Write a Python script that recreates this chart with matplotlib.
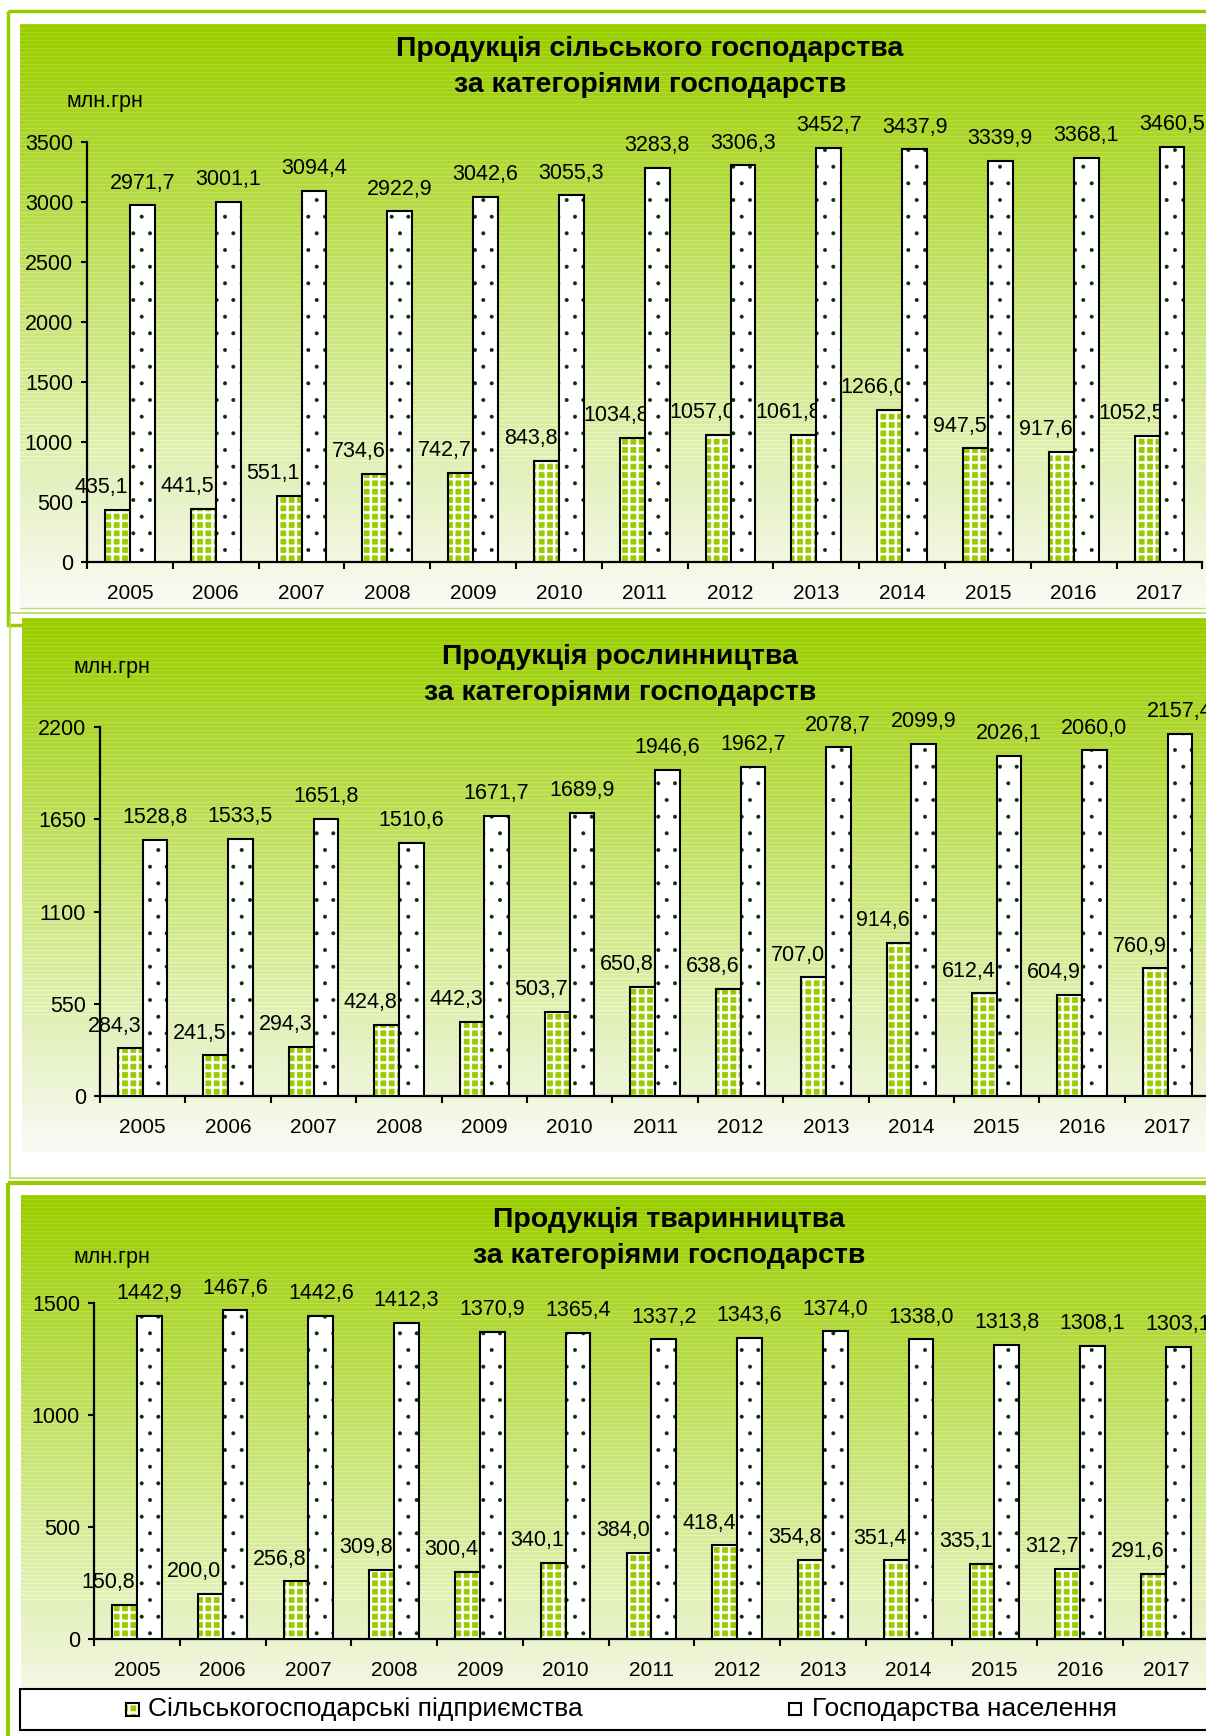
import numpy as np
import matplotlib
matplotlib.use('Agg')
import matplotlib.pyplot as plt
from matplotlib.patches import Rectangle

plt.rcParams['font.family'] = ['Liberation Sans', 'DejaVu Sans']

# Data (млн.грн)
years = [str(y) for y in range(2005, 2018)]

agri_enterprises = [435.1, 441.5, 551.1, 734.6, 742.7, 843.8, 1034.8, 1057.0, 1061.8, 1266.0, 947.5, 917.6, 1052.5]
agri_households = [2971.7, 3001.1, 3094.4, 2922.9, 3042.6, 3055.3, 3283.8, 3306.3, 3452.7, 3437.9, 3339.9, 3368.1, 3460.5]

crop_enterprises = [284.3, 241.5, 294.3, 424.8, 442.3, 503.7, 650.8, 638.6, 707.0, 914.6, 612.4, 604.9, 760.9]
crop_households = [1528.8, 1533.5, 1651.8, 1510.6, 1671.7, 1689.9, 1946.6, 1962.7, 2078.7, 2099.9, 2026.1, 2060.0, 2157.4]

animal_enterprises = [150.8, 200.0, 256.8, 309.8, 300.4, 340.1, 384.0, 418.4, 354.8, 351.4, 335.1, 312.7, 291.6]
animal_households = [1442.9, 1467.6, 1442.6, 1412.3, 1370.9, 1365.4, 1337.2, 1343.6, 1374.0, 1338.0, 1313.8, 1308.1, 1303.1]

agri_ticks = [0, 500, 1000, 1500, 2000, 2500, 3000, 3500]
crop_ticks = [0, 550, 1100, 1650, 2200]
animal_ticks = [0, 500, 1000, 1500]

agri_title = 'Продукція сільського господарства\nза категоріями господарств'
crop_title = 'Продукція рослинництва\nза категоріями господарств'
animal_title = 'Продукція тваринництва\nза категоріями господарств'
unit_label = 'млн.грн'
legend_labels = ['Сільськогосподарські підприємства', 'Господарства населення']

GREEN = '#99CC00'
DOT = '#003300'
W, H = 1206, 1736

fig = plt.figure(figsize=(W / 100, H / 100), dpi=100)

# background layer in pixel coordinates
bg = fig.add_axes([0, 0, 1, 1])
bg.set_xlim(0, W)
bg.set_ylim(H, 0)
bg.axis('off')


def gradient(x0, x1, y0, y1, top=(153, 204, 0), bottom=(250, 251, 246), z=1):
    n = int(y1 - y0)
    t = np.linspace(0, 1, n)[:, None]
    c = (np.array(top)[None, :] * (1 - t) + np.array(bottom)[None, :] * t) / 255
    # faint horizontal streaks like in the original fill
    streak = (np.arange(n) % 4 == 0) & (t[:, 0] < 0.75)
    c[streak] = np.clip(c[streak] + 0.05, 0, 1)
    bg.imshow(c[:, None, :], extent=(x0, x1, y1, y0), aspect='auto',
              interpolation='nearest', zorder=z)


# panel 1
bg.add_patch(Rectangle((8, 11), 1300, 614, fill=False, ec=GREEN, lw=2.5, zorder=2))
gradient(20, W, 24, 608, z=1)
bg.plot([20, W], [608, 608], color='#BFE070', lw=1, zorder=2)
# panel 2
bg.add_patch(Rectangle((10, 613), 1300, 565, fill=False, ec='#BADB5A', lw=1.2, zorder=2))
gradient(22, W, 618, 1152, z=3)
# panel 3
bg.add_patch(Rectangle((8, 1183), 1300, 600, fill=False, ec=GREEN, lw=3, zorder=2))
gradient(21, W, 1195, H, bottom=(252, 252, 250), z=3)


def px_axes(left, top, right, bottom):
    return fig.add_axes([left / W, 1 - bottom / H, (right - left) / W, (bottom - top) / H])


def fmt(v):
    return f'{v:.1f}'.replace('.', ',')


def panel(ax, ent, hh, ticks):
    x = np.arange(len(years))
    bw = 0.29
    ax.patch.set_alpha(0)
    with plt.rc_context({'hatch.linewidth': 1.8}):
        ax.bar(x - bw / 2, ent, bw, color=GREEN, ec='white', hatch='++', lw=0, zorder=3)
    ax.bar(x - bw / 2, ent, bw, fill=False, ec='black', lw=1.5, zorder=3)
    with plt.rc_context({'hatch.linewidth': 0.4}):
        ax.bar(x + bw / 2, hh, bw, color='white', ec=DOT, hatch='.', lw=0, zorder=5)
    ax.bar(x + bw / 2, hh, bw, fill=False, ec='black', lw=1.5, zorder=5)
    for i in range(len(years)):
        ax.annotate(fmt(ent[i]), (x[i] - 0.33, ent[i]), xytext=(0, 16),
                    textcoords='offset points', ha='center', va='center',
                    fontsize=15.5, zorder=4)
        ax.annotate(fmt(hh[i]), (x[i] + bw / 2, hh[i]), xytext=(0, 16),
                    textcoords='offset points', ha='center', va='center',
                    fontsize=15.5, zorder=6)
    ax.set_xlim(-0.5, len(years) - 0.5)
    ax.set_ylim(0, ticks[-1])
    ax.set_yticks(ticks)
    ax.set_xticks(x)
    ax.set_xticklabels(years)
    ax.set_xticks(np.arange(len(years) + 1) - 0.5, minor=True)
    for s in ['top', 'right']:
        ax.spines[s].set_visible(False)
    for s in ['left', 'bottom']:
        ax.spines[s].set_linewidth(1.6)
    ax.tick_params(axis='y', direction='out', length=4, width=1.5, pad=6, labelsize=15.5)
    ax.tick_params(axis='x', which='major', length=0, pad=16, labelsize=15)
    ax.tick_params(axis='x', which='minor', direction='out', length=5, width=1.5)


ax1 = px_axes(87, 142, 87 + 13 * 85.8, 562)
panel(ax1, agri_enterprises, agri_households, agri_ticks)
ax2 = px_axes(100, 727, 100 + 13 * 85.4, 1096)
panel(ax2, crop_enterprises, crop_households, crop_ticks)
ax3 = px_axes(94, 1303, 94 + 13 * 85.75, 1639)
panel(ax3, animal_enterprises, animal_households, animal_ticks)

# titles and units
for (cx, cy, title), (ux, uy) in zip([(650, 67, agri_title), (620, 675, crop_title), (669, 1238, animal_title)],
                                     [(105, 101), (112, 668), (112, 1257)]):
    fig.text(cx / W, 1 - cy / H, title, ha='center', va='center', fontsize=20.5,
             fontweight='bold', linespacing=1.5)
    fig.text(ux / W, 1 - uy / H, unit_label, ha='center', va='center', fontsize=15.5)

# legend
bg.add_patch(Rectangle((20, 1689), 1200, 41, fc='white', ec='black', lw=1.5, zorder=6))
with plt.rc_context({'hatch.linewidth': 1.8}):
    bg.add_patch(Rectangle((126, 1703), 13, 13, fc=GREEN, ec='white', hatch='++', lw=0, zorder=7))
bg.add_patch(Rectangle((126, 1703), 13, 13, fill=False, ec='black', lw=1.5, zorder=7))
bg.add_patch(Rectangle((789, 1703), 12, 12, fc='white', ec='black', lw=1.5, zorder=7))
bg.text(148, 1709, legend_labels[0], ha='left', va='center', fontsize=19, zorder=8)
bg.text(812, 1709, legend_labels[1], ha='left', va='center', fontsize=19, zorder=8)

fig.savefig('out.png', dpi=100)
